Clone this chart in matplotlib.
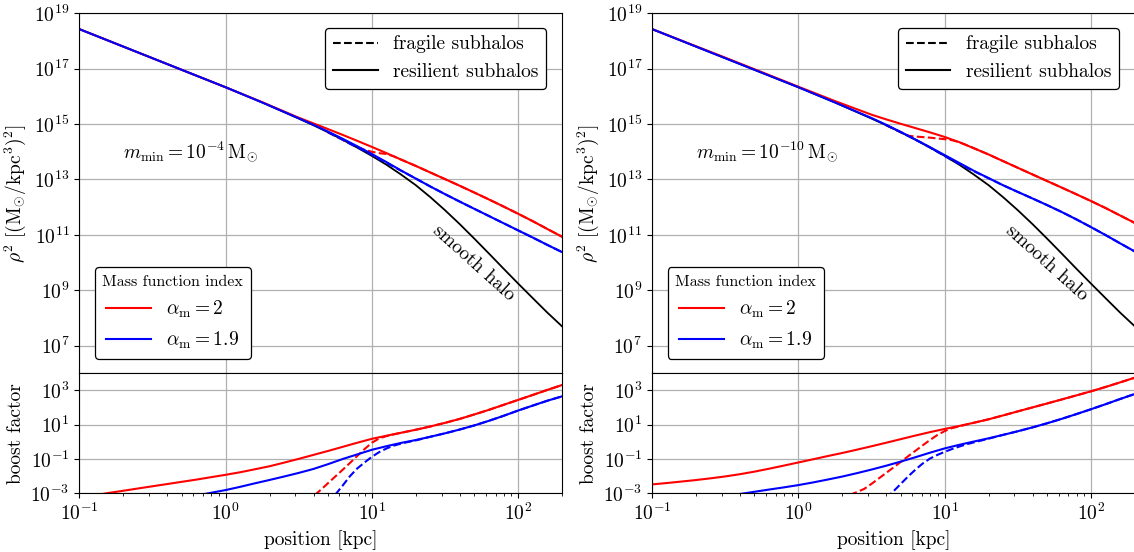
import numpy as np
import matplotlib
matplotlib.use("Agg")
import matplotlib.pyplot as plt
from matplotlib.lines import Line2D
from matplotlib.ticker import NullLocator, LogLocator

plt.rcParams.update({
    "font.family": "serif",
    "font.serif": ["cmr10"],
    "mathtext.fontset": "cm",
    "axes.formatter.use_mathtext": True,
    "font.size": 14,
})

nan = np.nan

# ---------------- data (log10 values) ----------------
# top panels: rho^2 [(Msun/kpc^3)^2]
x_top = [0.1, 0.316, 1, 1.78, 3.16, 3.98, 5.01, 6.31, 7.94, 10, 12.6, 15.8, 20,
         25.1, 31.6, 39.8, 50.1, 63.1, 79.4, 100, 126, 158, 200]
smooth_log = [18.43, 17.38, 16.33, 15.78, 15.20, 14.96, 14.705, 14.435, 14.15,
              13.85, 13.53, 13.18, 12.79, 12.36, 11.89, 11.39, 10.865, 10.325,
              9.78, 9.24, 8.71, 8.195, 7.69]

# left column: m_min = 1e-4 Msun
red_res_L = [18.43, 17.38, 16.33, 15.79, 15.23, 15.025, 14.82, 14.61, 14.395,
             14.175, 13.95, 13.72, 13.487, 13.251, 13.013, 12.773, 12.528,
             12.278, 12.023, 11.761, 11.491, 11.213, 10.928]
blue_res_L = [18.43, 17.38, 16.33, 15.78, 15.21, 14.975, 14.73, 14.47, 14.20,
              13.92, 13.625, 13.325, 13.03, 12.745, 12.47, 12.202, 11.94,
              11.68, 11.42, 11.16, 10.90, 10.638, 10.373]
x_frag_L = [5.01, 6.31, 7.08, 7.94, 8.91, 10, 11.2, 12.6, 14.1, 15.8, 20, 25.1,
            31.6, 39.8, 50.1, 63.1, 79.4, 100, 126, 158, 200]
red_frag_L = [14.705, 14.435, 14.30, 14.17, 14.07, 14.0, 13.95, 13.92, 13.835,
              13.72, 13.487, 13.251, 13.013, 12.773, 12.528, 12.278, 12.023,
              11.761, 11.491, 11.213, 10.928]
blue_frag_L = [14.705, 14.435, 14.29, 14.16, 14.03, 13.89, 13.74, 13.60, 13.46,
               13.32, 13.03, 12.745, 12.47, 12.202, 11.94, 11.68, 11.42, 11.16,
               10.90, 10.638, 10.373]

# right column: m_min = 1e-10 Msun
red_res_R = [18.43, 17.40, 16.35, 15.83, 15.34, 15.17, 15.01, 14.855, 14.70,
             14.535, 14.345, 14.13, 13.90, 13.662, 13.422, 13.182, 12.944,
             12.706, 12.466, 12.221, 11.966, 11.701, 11.426]
blue_res_R = [18.43, 17.38, 16.33, 15.78, 15.22, 14.975, 14.715, 14.445, 14.165,
              13.88, 13.595, 13.315, 13.045, 12.79, 12.55, 12.315, 12.075,
              11.825, 11.56, 11.28, 10.99, 10.695, 10.395]
x_frag_R = [3.98, 5.01, 5.62, 6.31, 7.08, 7.94, 8.91, 10, 11.2, 12.6, 14.1, 15.8,
            17.8, 20, 25.1, 31.6, 39.8, 50.1, 63.1, 79.4, 100, 126, 158, 200]
red_frag_R = [14.96, 14.705, 14.58, 14.55, 14.53, 14.51, 14.48, 14.455, 14.42,
              14.345, 14.24, 14.13, 14.015, 13.90, 13.662, 13.422, 13.182,
              12.944, 12.706, 12.466, 12.221, 11.966, 11.701, 11.426]
blue_frag_R = [14.96, 14.705, 14.575, 14.435, 14.30, 14.155, 14.0, 13.85, 13.70,
               13.56, 13.43, 13.30, 13.17, 13.045, 12.79, 12.55, 12.315, 12.075,
               11.825, 11.56, 11.28, 10.99, 10.695, 10.395]

# bottom panels: boost factor (log10)
x_grid = [0.1, 0.126, 0.158, 0.2, 0.251, 0.316, 0.398, 0.501, 0.631, 0.794, 1,
          1.26, 1.58, 2, 2.51, 3.16, 3.98, 5.01, 6.31, 7.94, 10, 12.6, 15.8, 20,
          25.1, 31.6, 39.8, 50.1, 63.1, 79.4, 100, 126, 158, 200]
b_red_res_L = [nan, -3.12, -2.98, -2.85, -2.72, -2.59, -2.46, -2.33, -2.20,
               -2.06, -1.92, -1.77, -1.60, -1.42, -1.21, -0.99, -0.76, -0.53,
               -0.29, -0.05, 0.18, 0.36, 0.53, 0.71, 0.90, 1.11, 1.34, 1.60,
               1.87, 2.16, 2.45, 2.74, 3.03, 3.32]
b_blue_res_L = [nan, nan, nan, nan, nan, nan, nan, nan, -3.13, -2.97, -2.81,
                -2.62, -2.42, -2.22, -2.02, -1.81, -1.58, -1.30, -1.00, -0.73,
                -0.46, -0.25, -0.06, 0.11, 0.30, 0.50, 0.72, 0.96, 1.23, 1.52,
                1.83, 2.12, 2.40, 2.66]
b_red_res_R = [-2.48, -2.40, -2.315, -2.225, -2.125, -2.015, -1.885, -1.735,
               -1.565, -1.385, -1.20, -1.015, -0.83, -0.645, -0.455, -0.255,
               -0.05, 0.16, 0.37, 0.57, 0.755, 0.93, 1.115, 1.32, 1.545, 1.78,
               2.01, 2.24, 2.475, 2.71, 2.95, 3.205, 3.47, 3.75]
b_blue_res_R = [nan, nan, nan, nan, nan, nan, -3.04, -2.91, -2.78, -2.655,
                -2.52, -2.365, -2.20, -2.02, -1.825, -1.615, -1.39, -1.15,
                -0.895, -0.63, -0.38, -0.17, 0.02, 0.21, 0.41, 0.62, 0.845,
                1.085, 1.345, 1.62, 1.905, 2.20, 2.50, 2.80]

xb_redf_L = [4.07, 4.47, 5.01, 5.62, 6.31, 7.08, 7.94, 8.91, 10, 11.2, 12.6,
             14.1, 15.8, 20, 25.1, 31.6, 39.8, 50.1, 63.1, 79.4, 100, 126, 158, 200]
b_red_frag_L = [-3.1, -2.8, -2.41, -2.02, -1.63, -1.23, -0.82, -0.42, -0.05,
                0.2, 0.34, 0.44, 0.53, 0.71, 0.90, 1.11, 1.34, 1.60, 1.87, 2.16,
                2.45, 2.74, 3.03, 3.32]
xb_bluef_L = [5.62, 6.31, 7.08, 7.94, 8.91, 10, 11.2, 12.6, 14.1, 15.8, 17.8,
              20, 25.1, 31.6, 39.8, 50.1, 63.1, 79.4, 100, 126, 158, 200]
b_blue_frag_L = [-3.08, -2.55, -2.0, -1.55, -1.2, -0.87, -0.6, -0.38, -0.22,
                 -0.1, 0.0, 0.09, 0.30, 0.50, 0.72, 0.96, 1.23, 1.52, 1.83,
                 2.12, 2.40, 2.66]
xb_redf_R = [2.24, 2.51, 2.82, 3.16, 3.55, 3.98, 4.47, 5.01, 5.62, 6.31, 7.08,
             7.94, 8.91, 10, 11.2, 12.6, 14.1, 15.8, 20, 25.1, 31.6, 39.8, 50.1,
             63.1, 79.4, 100, 126, 158, 200]
b_red_frag_R = [-3.1, -2.93, -2.74, -2.45, -2.13, -1.81, -1.49, -1.17, -0.84,
                -0.52, -0.2, 0.11, 0.4, 0.63, 0.8, 0.91, 1.01, 1.115, 1.32,
                1.545, 1.78, 2.01, 2.24, 2.475, 2.71, 2.95, 3.205, 3.47, 3.75]
xb_bluef_R = [3.98, 4.47, 5.01, 5.62, 6.31, 7.08, 7.94, 8.91, 10, 11.2, 12.6,
              14.1, 15.8, 17.8, 20, 25.1, 31.6, 39.8, 50.1, 63.1, 79.4, 100,
              126, 158, 200]
b_blue_frag_R = [-3.3, -2.88, -2.45, -2.02, -1.62, -1.26, -0.97, -0.76, -0.58,
                 -0.42, -0.27, -0.14, -0.03, 0.08, 0.19, 0.41, 0.62, 0.845,
                 1.085, 1.345, 1.62, 1.905, 2.20, 2.50, 2.80]

mmin_labels = [r"$m_{\rm min} = 10^{-4}\,{\rm M}_{\odot}$",
               r"$m_{\rm min} = 10^{-10}\,{\rm M}_{\odot}$"]
alpha_labels = [r"$\alpha_{\rm m} = 2$", r"$\alpha_{\rm m} = 1.9$"]
style_labels = ["fragile subhalos", "resilient subhalos"]

panels = [
    dict(red_res=red_res_L, blue_res=blue_res_L, x_frag=x_frag_L,
         red_frag=red_frag_L, blue_frag=blue_frag_L,
         b_red=b_red_res_L, b_blue=b_blue_res_L,
         xb_redf=xb_redf_L, b_redf=b_red_frag_L,
         xb_bluef=xb_bluef_L, b_bluef=b_blue_frag_L, label=mmin_labels[0]),
    dict(red_res=red_res_R, blue_res=blue_res_R, x_frag=x_frag_R,
         red_frag=red_frag_R, blue_frag=blue_frag_R,
         b_red=b_red_res_R, b_blue=b_blue_res_R,
         xb_redf=xb_redf_R, b_redf=b_red_frag_R,
         xb_bluef=xb_bluef_R, b_bluef=b_blue_frag_R, label=mmin_labels[1]),
]


def p(v):
    return 10.0 ** np.asarray(v, dtype=float)


fig = plt.figure(figsize=(11.34, 5.52), dpi=100)
lefts = [0.0699, 0.575]
W = 0.4259
grid_kw = dict(color="#b0b0b0", linewidth=0.9)
LW = 1.5

for x0, d in zip(lefts, panels):
    axt = fig.add_axes([x0, 0.3237, W, 0.6522])
    axb = fig.add_axes([x0, 0.1063, W, 0.2174], sharex=axt)

    # ---- top: rho^2 ----
    axt.plot(x_top, p(smooth_log), color="black", lw=1.3)
    axt.plot(d["x_frag"], p(d["red_frag"]), color="red", lw=LW, ls="--")
    axt.plot(x_top, p(d["red_res"]), color="red", lw=LW)
    axt.plot(d["x_frag"], p(d["blue_frag"]), color="blue", lw=LW, ls="--")
    axt.plot(x_top, p(d["blue_res"]), color="blue", lw=LW)
    axt.set_xscale("log")
    axt.set_yscale("log")
    axt.set_xlim(0.1, 200)
    axt.set_ylim(1e6, 1e19)
    axt.set_yticks([1e7, 1e9, 1e11, 1e13, 1e15, 1e17, 1e19])
    axt.yaxis.set_minor_locator(NullLocator())
    axt.grid(True, which="major", **grid_kw)
    axt.tick_params(axis="x", which="both", bottom=False, labelbottom=False)
    axt.set_ylabel(r"$\rho^2\ [({\rm M}_{\odot}/{\rm kpc}^3)^2]$")
    axt.text(0.2, 1e14, d["label"], ha="left", va="center", fontsize=14)
    axt.text(50, 1e10, "smooth halo", rotation=-42, ha="center", va="center",
             rotation_mode="anchor", fontsize=14)

    h1 = [Line2D([], [], color="black", ls="--", lw=LW),
          Line2D([], [], color="black", lw=LW)]
    leg1 = axt.legend(h1, style_labels, loc="upper right",
                      bbox_to_anchor=(0.967, 0.96), borderaxespad=0,
                      handlelength=2.3, framealpha=1, edgecolor="black",
                      fontsize=14)
    leg1.get_frame().set_linewidth(0.9)
    axt.add_artist(leg1)
    h2 = [Line2D([], [], color="red", lw=LW), Line2D([], [], color="blue", lw=LW)]
    leg2 = axt.legend(h2, alpha_labels, loc="lower left",
                      bbox_to_anchor=(0.032, 0.041), borderaxespad=0,
                      handlelength=2.3, framealpha=1, edgecolor="black",
                      title="Mass function index", title_fontsize=11.5,
                      fontsize=14)
    leg2.get_frame().set_linewidth(0.9)

    # ---- bottom: boost factor ----
    axb.plot(x_grid, p(d["b_red"]), color="red", lw=LW)
    axb.plot(d["xb_redf"], p(d["b_redf"]), color="red", lw=LW, ls="--")
    axb.plot(x_grid, p(d["b_blue"]), color="blue", lw=LW)
    axb.plot(d["xb_bluef"], p(d["b_bluef"]), color="blue", lw=LW, ls="--")
    axb.set_yscale("log")
    axb.set_ylim(1e-3, 1e4)
    axb.set_yticks([1e-3, 1e-1, 1e1, 1e3])
    axb.yaxis.set_minor_locator(NullLocator())
    axb.set_xlim(0.1, 200)
    axb.xaxis.set_major_locator(LogLocator(base=10))
    axb.grid(True, which="major", **grid_kw)
    axb.set_xlabel("position [kpc]")
    axb.set_ylabel("boost factor")

fig.savefig("out.png", dpi=100)
